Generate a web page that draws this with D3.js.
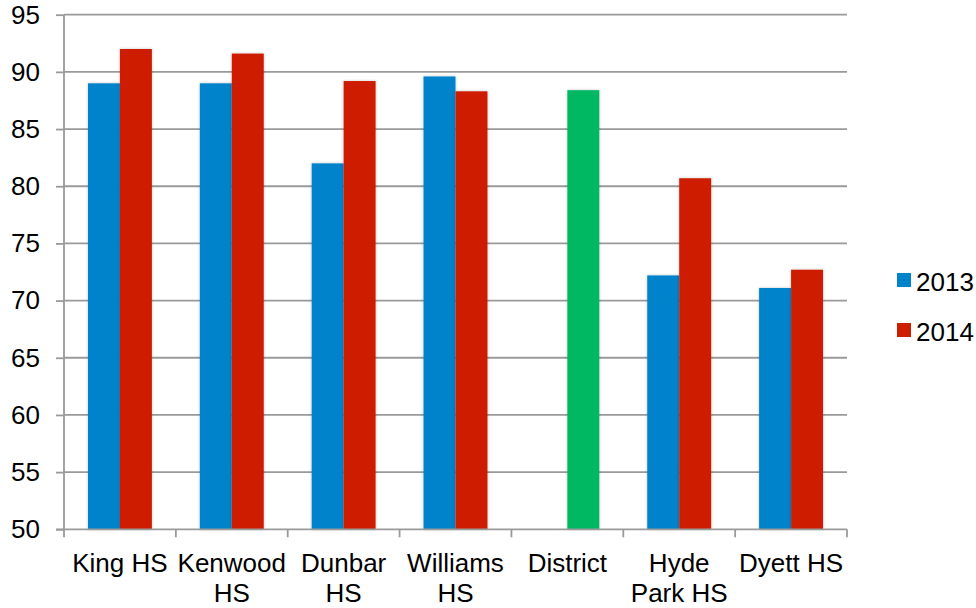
<!DOCTYPE html>
<html>
<head>
<meta charset="utf-8">
<script src="https://cdn.jsdelivr.net/npm/d3@7"></script>
<style>
  html, body { margin: 0; padding: 0; background: #fff; }
  svg { display: block; font-family: "Liberation Sans", Arial, Helvetica, sans-serif; }
</style>
</head>
<body>
<svg id="chart" width="976" height="608"></svg>
<script>
// ---- data ----
const categories = ["King HS", "Kenwood HS", "Dunbar HS", "Williams HS", "District", "Hyde Park HS", "Dyett HS"];
const categoryLabelLines = [["King HS"], ["Kenwood", "HS"], ["Dunbar", "HS"], ["Williams", "HS"], ["District"], ["Hyde", "Park HS"], ["Dyett HS"]];
const seriesNames = ["2013", "2014"];
const values2013 = [89.0, 89.0, 82.0, 89.6, null, 72.2, 71.1];
const values2014 = [92.0, 91.6, 89.2, 88.3, 88.4, 80.7, 72.7];
const yTicks = [50, 55, 60, 65, 70, 75, 80, 85, 90, 95];

// ---- styling / layout ----
const colors = { "2013": "#0083CB", "2014": "#CD1E00", "District": "#00B862" };
const plotLeft = 64, plotRight = 847, plotTop = 14.7, plotBottom = 529.3;
const fontSize = 26;

const svg = d3.select("#chart");

const defs = svg.append("defs");
const f = defs.append("filter").attr("id", "shadow").attr("x", "-20%").attr("y", "-5%").attr("width", "140%").attr("height", "110%");
f.append("feDropShadow").attr("dx", 0).attr("dy", 0).attr("stdDeviation", 1.6)
  .attr("flood-color", "#000").attr("flood-opacity", 0.22);

const x0 = d3.scaleBand().domain(categories).range([plotLeft, plotRight]).paddingInner(0).paddingOuter(0);
const x1 = d3.scaleBand().domain(seriesNames).range([0, x0.bandwidth()]).paddingInner(0).paddingOuter(0.75);
const y = d3.scaleLinear().domain([50, 95]).range([plotBottom, plotTop]);

// gridlines
svg.append("g").selectAll("line").data(yTicks.filter(t => t !== 50)).join("line")
  .attr("x1", plotLeft).attr("x2", plotRight)
  .attr("y1", d => y(d)).attr("y2", d => y(d))
  .attr("stroke", "#9a9a9a").attr("stroke-width", 1.8);

// bars
const rows = categories.map((c, i) => ({ cat: c, vals: [
  { s: "2013", v: values2013[i] },
  { s: "2014", v: values2014[i] }
].filter(d => d.v !== null) }));

const groups = svg.append("g").selectAll("g").data(rows).join("g")
  .attr("transform", d => `translate(${x0(d.cat)},0)`);

groups.selectAll("rect").data(d => d.vals.map(v => ({ ...v, cat: d.cat }))).join("rect")
  .attr("x", d => x1(d.s))
  .attr("width", x1.bandwidth())
  .attr("y", d => y(d.v))
  .attr("height", d => y(50) - y(d.v))
  .attr("fill", d => d.cat === "District" ? colors["District"] : colors[d.s])
  .attr("filter", "url(#shadow)");

// y axis
const yAxis = d3.axisLeft(y).tickValues(yTicks).tickSize(8).tickPadding(16).tickFormat(d3.format("d"));
const gy = svg.append("g").attr("transform", `translate(${plotLeft},0)`).call(yAxis);
gy.select(".domain").attr("stroke", "#9a9a9a").attr("stroke-width", 1.8).attr("d", `M0,${plotTop}V${plotBottom}`);
gy.selectAll(".tick line").attr("stroke", "#9a9a9a").attr("stroke-width", 1.8);
gy.selectAll(".tick text").attr("font-size", fontSize).attr("fill", "#000")
  .attr("font-family", "'Liberation Sans', Arial, sans-serif");

// x axis line with boundary ticks
const gx = svg.append("g");
gx.append("line").attr("x1", plotLeft - 8).attr("x2", plotRight).attr("y1", plotBottom).attr("y2", plotBottom)
  .attr("stroke", "#9a9a9a").attr("stroke-width", 1.8);
const boundaries = categories.map(c => x0(c)).concat([x0(categories[categories.length - 1]) + x0.bandwidth()]);
gx.selectAll("line.b").data(boundaries).join("line").attr("class", "b")
  .attr("x1", d => d).attr("x2", d => d).attr("y1", plotBottom).attr("y2", plotBottom + 8)
  .attr("stroke", "#9a9a9a").attr("stroke-width", 1.8);

// category labels
const labels = svg.append("g").selectAll("text").data(categories).join("text")
  .attr("x", d => x0(d) + x0.bandwidth() / 2)
  .attr("y", 572)
  .attr("text-anchor", "middle")
  .attr("font-size", fontSize)
  .attr("fill", "#000");
labels.each(function(d, i) {
  const t = d3.select(this);
  categoryLabelLines[i].forEach((line, j) => {
    t.append("tspan").attr("x", x0(d) + x0.bandwidth() / 2).attr("dy", j === 0 ? 0 : 30).text(line);
  });
});

// legend
const legend = svg.append("g").selectAll("g").data(seriesNames).join("g")
  .attr("transform", (d, i) => `translate(897,${273 + i * 50})`);
legend.append("rect").attr("width", 14).attr("height", 14).attr("fill", d => colors[d]);
legend.append("text").attr("x", 19).attr("y", 18).attr("font-size", fontSize).attr("fill", "#000").text(d => d);
</script>
</body>
</html>
